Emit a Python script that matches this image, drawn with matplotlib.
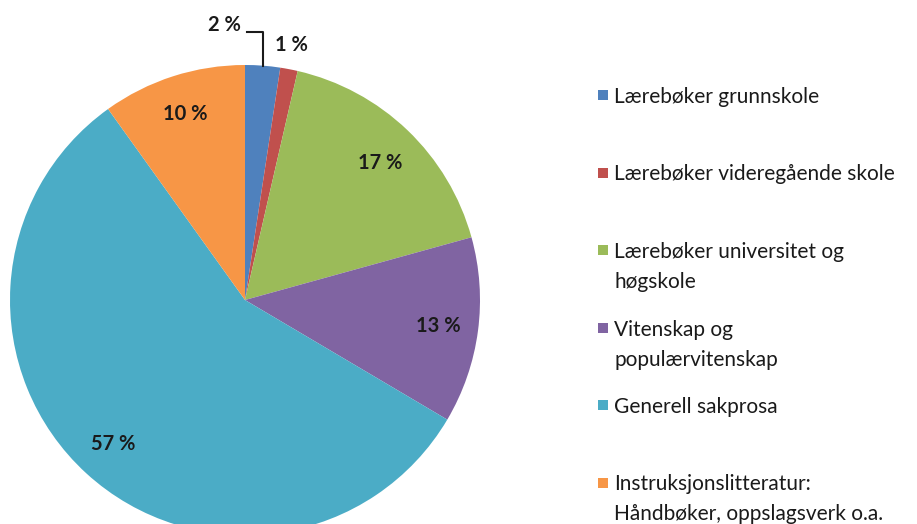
import matplotlib.pyplot as plt
import numpy as np
from matplotlib.patches import Rectangle

categories = ['Lærebøker grunnskole', 'Lærebøker videregående skole',
              'Lærebøker universitet og\nhøgskole', 'Vitenskap og\npopulærvitenskap',
              'Generell sakprosa', 'Instruksjonslitteratur:\nHåndbøker, oppslagsverk o.a.']
shares = [2.4, 1.2, 17.1, 12.8, 56.6, 9.9]
colors = ['#4F81BD', '#C0504D', '#9BBB59', '#8064A2', '#4BACC6', '#F79646']

plt.rcParams['font.family'] = ['Lato', 'DejaVu Sans']

W, H = 917, 524
fig = plt.figure(figsize=(W / 100, H / 100), dpi=100)
ax = fig.add_axes([0, 0, 1, 1])

cx, cy, r = 245, H - 300, 235
wedges, texts, autotexts = ax.pie(
    shares, colors=colors, startangle=90, counterclock=False,
    center=(cx, cy), radius=r, pctdistance=0.83,
    autopct=lambda p: f'{p:.0f} %',
    textprops=dict(fontsize=14.5, fontweight='bold', color='#1a1a1a'),
    wedgeprops=dict(linewidth=0))
ax.set_xlim(0, W)
ax.set_ylim(0, H)
ax.set_aspect('equal')
ax.axis('off')

# small slices get their labels outside the pie
autotexts[0].set_position((224, H - 25))
autotexts[1].set_position((291, H - 45))
autotexts[2].set_position((380, H - 163))
mid = np.deg2rad(90 - (shares[0] / 2) / sum(shares) * 360)
ex, ey = cx + r * np.cos(mid), cy + r * np.sin(mid)
ax.plot([247, ex, ex], [H - 32, H - 32, ey], color='#1a1a1a', lw=1.5)

# legend drawn by hand (first lines evenly spaced, wrapped lines hang below)
y0 = 95
for i, (lab, c) in enumerate(zip(categories, colors)):
    y = y0 + i * 77.5
    ax.add_patch(Rectangle((598, H - y - 5), 10, 10, color=c, lw=0))
    for j, line in enumerate(lab.split('\n')):
        ax.text(614, H - y - j * 30, line, fontsize=15, va='center_baseline',
                ha='left', color='#1a1a1a')

fig.savefig('out.png', dpi=100)
